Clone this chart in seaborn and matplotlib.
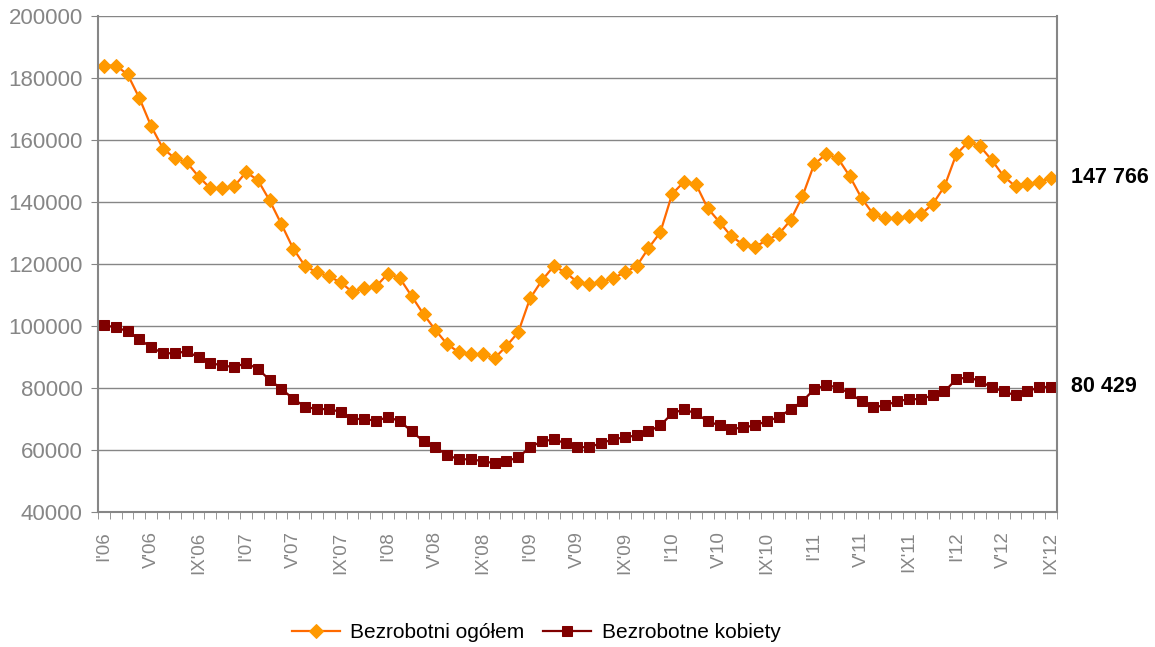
import matplotlib
matplotlib.use('Agg')
import matplotlib.pyplot as plt
import seaborn as sns
import numpy as np
import pandas as pd

# dane miesieczne I'06 - IX'12
months = ['I', 'II', 'III', 'IV', 'V', 'VI', 'VII', 'VIII', 'IX', 'X', 'XI', 'XII']
periods = [f"{m}'{y:02d}" for y in range(6, 13) for m in months][:81]

ogolem = [184000, 184000, 181200, 173500, 164400, 157200, 154100, 152800, 148200, 144400,
          144400, 145000, 149600, 147100, 140500, 132800, 124900, 119300, 117300, 116000,
          114100, 110900, 112300, 112800, 116900, 115400, 109600, 103800, 98700, 94100,
          91500, 90900, 90900, 89600, 93500, 98000, 108900, 114700, 119300, 117300,
          114100, 113500, 114100, 115400, 117300, 119300, 125100, 130200, 142600, 146500,
          145800, 138000, 133500, 128900, 126300, 125600, 127600, 129600, 134100, 141800,
          152200, 155400, 154100, 148300, 141200, 136000, 134700, 134700, 135400, 136000,
          139300, 145000, 155400, 159300, 158000, 153500, 148300, 145000, 145700, 146400,
          147766]

kobiety = [100200, 99600, 98300, 95700, 93100, 91200, 91200, 91800, 89900, 88000,
           87300, 86700, 88000, 86200, 82600, 79700, 76500, 73900, 73200, 73200,
           72300, 70000, 70000, 69400, 70600, 69300, 66000, 62800, 60900, 58300,
           57000, 57000, 56400, 55700, 56400, 57600, 60900, 62800, 63400, 62200,
           60900, 60900, 62200, 63400, 64100, 64700, 66000, 67900, 71800, 73100,
           71800, 69300, 67900, 66700, 67300, 67900, 69300, 70600, 73100, 75700,
           79600, 80900, 80200, 78300, 75700, 73800, 74400, 75700, 76400, 76400,
           77600, 78900, 82800, 83500, 82200, 80200, 78900, 77600, 78900, 80200,
           80429]

df = pd.DataFrame({'x': np.arange(len(periods)), 'okres': periods,
                   'ogolem': ogolem, 'kobiety': kobiety})

plt.rcParams['font.family'] = ['Liberation Sans', 'DejaVu Sans']
gray = '#868686'

fig = plt.figure(figsize=(11.55, 6.47), dpi=100)
ax = fig.add_axes([0.0848, 0.2087, 0.8303, 0.7666])

sns.lineplot(data=df, x='x', y='ogolem', ax=ax, color='#FF6A00', lw=1.6,
             marker='D', markersize=7, markerfacecolor='#FF9900', markeredgecolor='#FF9900',
             label='Bezrobotni ogółem')
sns.lineplot(data=df, x='x', y='kobiety', ax=ax, color='#800000', lw=1.6,
             marker='s', markersize=6.5, markerfacecolor='#800000', markeredgecolor='#800000',
             label='Bezrobotne kobiety')

ax.set_ylim(40000, 200000)
ax.set_yticks(np.arange(40000, 200001, 20000))
ax.set_xlim(-0.5, len(periods) - 0.5)
ax.set_xticks(df['x'][::4], labels=df['okres'][::4], rotation=90)
ax.set_xticks(np.arange(-0.5, len(periods), 1), minor=True)
ax.tick_params(axis='x', which='major', length=0, labelsize=13.5, labelcolor=gray, pad=14)
ax.tick_params(axis='x', which='minor', length=5, color=gray, direction='out')
ax.tick_params(axis='y', length=5, color=gray, labelsize=16, labelcolor=gray, direction='out', pad=6)
ax.set_xlabel('')
ax.set_ylabel('')

ax.grid(axis='y', color=gray, lw=1)
ax.set_axisbelow(True)
for s in ['left', 'bottom', 'right']:
    ax.spines[s].set_color(gray)
    ax.spines[s].set_linewidth(1.5)
ax.spines['top'].set_visible(False)

# etykiety ostatnich wartosci
ax.annotate('147 766', xy=(df['x'].iloc[-1], ogolem[-1]), xytext=(20, 0), textcoords='offset pixels',
            va='center', ha='left', fontsize=15.5, fontweight='bold')
ax.annotate('80 429', xy=(df['x'].iloc[-1], kobiety[-1]), xytext=(20, 0), textcoords='offset pixels',
            va='center', ha='left', fontsize=15.5, fontweight='bold')

ax.legend(loc='center', bbox_to_anchor=(0.457, -0.243), ncol=2, frameon=False,
          fontsize=15, handlelength=2.3, columnspacing=0.9, handletextpad=0.5)

fig.savefig('out.png', dpi=100)
